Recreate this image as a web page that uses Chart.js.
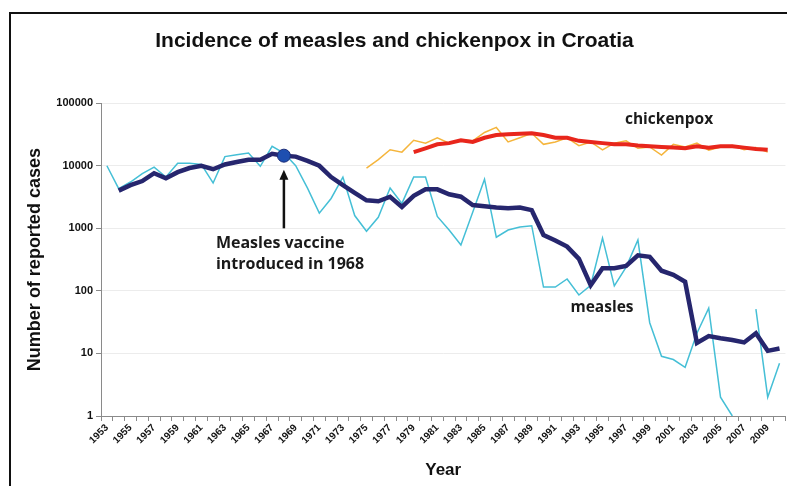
<!DOCTYPE html>
<html>
<head>
<meta charset="utf-8">
<title>Incidence of measles and chickenpox in Croatia</title>
<script src="https://cdn.jsdelivr.net/npm/chart.js@4/dist/chart.umd.min.js"></script>
<style>
    html, body { margin: 0; padding: 0; background: #fff; overflow: hidden; }
    #frame {
        position: absolute; left: 9px; top: 12px; width: 800px; height: 500px;
        border-top: 2px solid #111; border-left: 2px solid #111;
    }
    #wrap { position: absolute; left: 0; top: 0; width: 789px; height: 486px; }
</style>
</head>
<body>
<div id="frame"></div>
<div id="wrap"><canvas id="myChart" width="789" height="486"></canvas></div>
<script>
// --- Data ---
const years = [1953, 1954, 1955, 1956, 1957, 1958, 1959, 1960, 1961, 1962,
    1963, 1964, 1965, 1966, 1967, 1968, 1969, 1970, 1971, 1972,
    1973, 1974, 1975, 1976, 1977, 1978, 1979, 1980, 1981, 1982,
    1983, 1984, 1985, 1986, 1987, 1988, 1989, 1990, 1991, 1992,
    1993, 1994, 1995, 1996, 1997, 1998, 1999, 2000, 2001, 2002,
    2003, 2004, 2005, 2006, 2007, 2008, 2009, 2010];

// reported measles cases per year (thin line)
const measlesCases = [10000, 4300, 5500, 7500, 9500, 6600, 11000, 11000, 10500, 5300,
    14000, 15000, 16000, 9800, 20500, 16000, 10000, 4400, 1750, 3000,
    6600, 1600, 900, 1500, 4400, 2500, 6600, 6600, 1550, 940,
    540, 1800, 6100, 720, 940, 1050, 1100, 115, 115, 155,
    86, 123, 700, 120, 240, 650, 31, 9, 8, 6,
    21, 53, 2, 1, null, 51, 2, 7];

// measles trend (thick line)
const measlesTrend = [null, 4000, 4900, 5700, 7600, 6300, 7900, 9200, 10000, 8800,
    10500, 11500, 12500, 12500, 15500, 14500, 14000, 12000, 10000, 6600,
    4900, 3700, 2800, 2700, 3200, 2200, 3300, 4200, 4200, 3500,
    3200, 2350, 2250, 2150, 2100, 2150, 1950, 780, 640, 510,
    325, 123, 230, 230, 250, 370, 350, 210, 180, 140,
    14.7, 19, 17.5, 16.4, 15, 21, 11, 12];

// reported chickenpox cases per year (thin line)
const chickenpoxCases = [null, null, null, null, null, null, null, null, null, null,
    null, null, null, null, null, null, null, null, null, null,
    null, null, 9200, 12500, 18000, 16500, 25500, 23000, 28000, 23000,
    26000, 25000, 34000, 41000, 24000, 28000, 33000, 22000, 24000, 28000,
    21000, 24000, 18000, 23000, 25000, 19000, 20000, 14800, 22000, 20000,
    23000, 17800, 20000, 21000, 18000, 19500, 16500, null];

// chickenpox trend (thick line)
const chickenpoxTrend = [null, null, null, null, null, null, null, null, null, null,
    null, null, null, null, null, null, null, null, null, null,
    null, null, null, null, null, null, 16500, 19000, 22000, 23000,
    25500, 24000, 28000, 31000, 32000, 32500, 33000, 31000, 28000, 28000,
    25000, 24000, 23000, 22000, 22000, 21000, 20500, 20000, 19500, 19000,
    20500, 19500, 20500, 20500, 19500, 18500, 18000, null];

const yTicks = [1, 10, 100, 1000, 10000, 100000];
const vaccineYear = 1968;

document.addEventListener('DOMContentLoaded', function() {
    const vaccineIndex = years.indexOf(vaccineYear);
    const labelFont = '"Liberation Sans", Arial, sans-serif';
    const noteFont = '"Open Sans", "Noto Sans", sans-serif';

    // --- Notes: arrow, vaccine text, series names ---
    const notesPlugin = {
        id: 'notes',
        afterDatasetsDraw(chart) {
            const c = chart.ctx;
            const x = chart.scales.x;
            const y = chart.scales.y;
            const ax = x.getPixelForValue(vaccineIndex);
            const tipY = y.getPixelForValue(measlesTrend[vaccineIndex]) + 14;
            const baseY = y.getPixelForValue(1000);

            c.save();
            c.strokeStyle = '#111';
            c.fillStyle = '#111';
            c.lineWidth = 2.5;
            c.beginPath();
            c.moveTo(ax, baseY);
            c.lineTo(ax, tipY + 8);
            c.stroke();
            c.beginPath();
            c.moveTo(ax, tipY);
            c.lineTo(ax - 4.5, tipY + 10);
            c.lineTo(ax + 4.5, tipY + 10);
            c.closePath();
            c.fill();

            c.font = 'bold 16px ' + noteFont;
            c.fillStyle = '#1a1a1a';
            c.textAlign = 'left';
            c.textBaseline = 'middle';
            c.fillText('Measles vaccine', ax - 68, baseY + 15);
            c.fillText('introduced in 1968', ax - 68, baseY + 36);

            c.font = 'bold 15.5px ' + noteFont;
            c.textAlign = 'center';
            c.fillText('chickenpox', 669, 120);
            c.fillText('measles', 602, 308);
            c.restore();
        }
    };

    const ctx = document.getElementById('myChart');
    new Chart(ctx, {
        type: 'line',
        data: {
            labels: years,
            datasets: [{
                label: 'measles trend',
                data: measlesTrend,
                borderColor: '#26266e',
                borderWidth: 4.5,
                pointRadius: c => c.dataIndex === vaccineIndex ? 6.5 : 0,
                pointBackgroundColor: '#1e4fb0',
                pointBorderColor: '#1b2c78',
                pointBorderWidth: 1,
                tension: 0
            }, {
                label: 'chickenpox trend',
                data: chickenpoxTrend,
                borderColor: '#e8261c',
                borderWidth: 4,
                pointRadius: 0,
                tension: 0
            }, {
                label: 'measles',
                data: measlesCases,
                borderColor: '#45bfd6',
                borderWidth: 1.5,
                pointRadius: 0,
                tension: 0
            }, {
                label: 'chickenpox',
                data: chickenpoxCases,
                borderColor: '#f5b53c',
                borderWidth: 1.5,
                pointRadius: 0,
                tension: 0
            }]
        },
        options: {
            responsive: false,
            animation: false,
            devicePixelRatio: 1,
            layout: { padding: { left: 0, right: 0, top: 0, bottom: 0 } },
            plugins: {
                legend: { display: false },
                tooltip: { enabled: false },
                title: {
                    display: true,
                    text: 'Incidence of measles and chickenpox in Croatia',
                    color: '#111',
                    font: { family: labelFont, size: 21, weight: 'bold' },
                    padding: { top: 29, bottom: 49 }
                }
            },
            scales: {
                x: {
                    type: 'category',
                    offset: true,
                    afterFit: s => { s.height = 70; },
                    border: { color: '#8a8a8a', width: 1 },
                    grid: { drawOnChartArea: false, offset: true, tickLength: 5, tickColor: '#8a8a8a' },
                    ticks: {
                        autoSkip: false,
                        minRotation: 45,
                        maxRotation: 45,
                        padding: 1,
                        color: '#111',
                        font: { family: labelFont, size: 10, weight: 'bold' },
                        callback: function(value, index) {
                            return index % 2 === 0 ? String(years[index]) : '';
                        }
                    },
                    title: {
                        display: true,
                        text: 'Year',
                        color: '#111',
                        font: { family: labelFont, size: 17, weight: 'bold' },
                        padding: { top: 0, bottom: 5 }
                    }
                },
                y: {
                    type: 'logarithmic',
                    min: 1,
                    max: 100000,
                    afterFit: s => { s.width = 101; },
                    afterBuildTicks: s => { s.ticks = yTicks.map(v => ({ value: v })); },
                    border: { color: '#8a8a8a', width: 1 },
                    grid: { color: '#ececec', tickLength: 5, tickColor: '#8a8a8a' },
                    ticks: {
                        padding: 3,
                        color: '#111',
                        font: { family: labelFont, size: 11, weight: 'bold' },
                        callback: v => String(v)
                    },
                    title: {
                        display: true,
                        text: 'Number of reported cases',
                        color: '#111',
                        font: { family: labelFont, size: 18, weight: 'bold' },
                        padding: { top: 24, bottom: 0 }
                    }
                }
            }
        },
        plugins: [notesPlugin]
    });
});
</script>
</body>
</html>
